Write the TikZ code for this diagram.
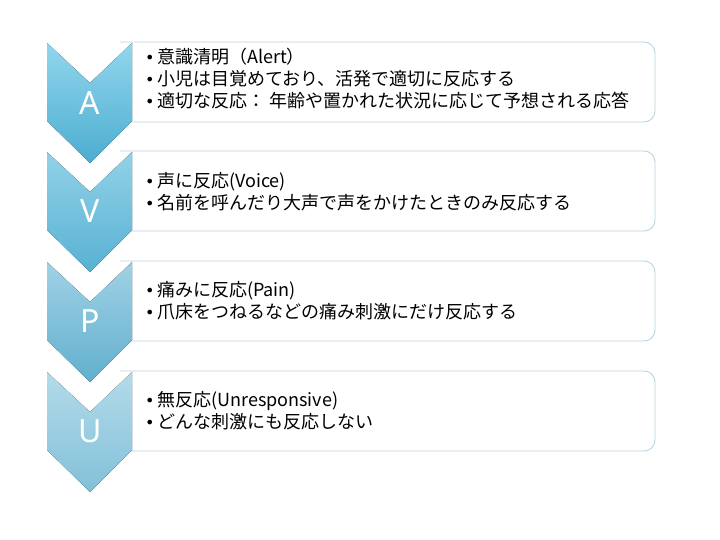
\documentclass[tikz,border=0pt]{standalone}
\usepackage{fontspec}
\setmainfont{Noto Sans CJK JP}
\newfontfamily\letterfont{Noto Sans}
\newfontfamily\bulletfont{DejaVu Sans}
\definecolor{boxline}{HTML}{BCD3DD}
\definecolor{aTop}{HTML}{92D6EC}
\definecolor{aBot}{HTML}{4CADD1}
\definecolor{vTop}{HTML}{92D2E8}
\definecolor{vBot}{HTML}{58B1D2}
\definecolor{pTop}{HTML}{A0D2E5}
\definecolor{pBot}{HTML}{62AFCE}
\definecolor{uTop}{HTML}{B4DBEA}
\definecolor{uBot}{HTML}{82C0D8}
\tikzset{
  infobox/.style={draw=boxline, line width=0.9pt, fill=white, rounded corners=11pt},
  letter/.style={text=white, font=\letterfont\fontsize{32}{32}\selectfont, inner sep=0pt},
  itemtext/.style={anchor=west, align=left, inner sep=0pt, font=\fontsize{18}{22}\selectfont}
}
\newcommand{\bl}{\makebox[12pt][l]{{\bulletfont\fontsize{16}{16}\selectfont•}}}
\newcommand{\chev}[3]{%
  \fill[top color=#2, bottom color=#3]
    (47,#1) -- (90,#1+40) -- (132,#1) -- (132,#1+78) -- (90,#1+120) -- (47,#1+78) -- cycle;}
\newcommand{\ibox}[1]{%
  \draw[infobox] (120,#1-1) -- (655,#1-1) -- (655,#1+79) -- (120,#1+79);}
\begin{document}
\begin{tikzpicture}[x=1pt,y=-1pt]
\useasboundingbox (0,0) rectangle (720,540);
\fill[white] (0,0) rectangle (720,540);
% boxes
\ibox{43}
\ibox{152}
\ibox{262}
\ibox{372}
% chevrons
\chev{43}{aTop}{aBot}
\chev{152}{vTop}{vBot}
\chev{262}{pTop}{pBot}
\chev{372}{uTop}{uBot}
% letters
\node[letter] (A) at (90,103) {A};
\node[letter] (V) at (90,211) {V};
\node[letter] (P) at (90,321) {P};
\node[letter] (U) at (90,431) {U};
% texts
\node[itemtext] (tA) at (145,79) {\bl 意識清明（Alert）\\ \bl 小児は目覚めており、活発で適切に反応する\\ \bl 適切な反応： 年齢や置かれた状況に応じて予想される応答};
\node[itemtext] (tV) at (145,192) {\bl 声に反応(Voice)\\ \bl 名前を呼んだり大声で声をかけたときのみ反応する};
\node[itemtext] (tP) at (145,301) {\bl 痛みに反応(Pain)\\ \bl 爪床をつねるなどの痛み刺激にだけ反応する};
\node[itemtext] (tU) at (145,411) {\bl 無反応(Unresponsive)\\ \bl どんな刺激にも反応しない};
\end{tikzpicture}
\end{document}
